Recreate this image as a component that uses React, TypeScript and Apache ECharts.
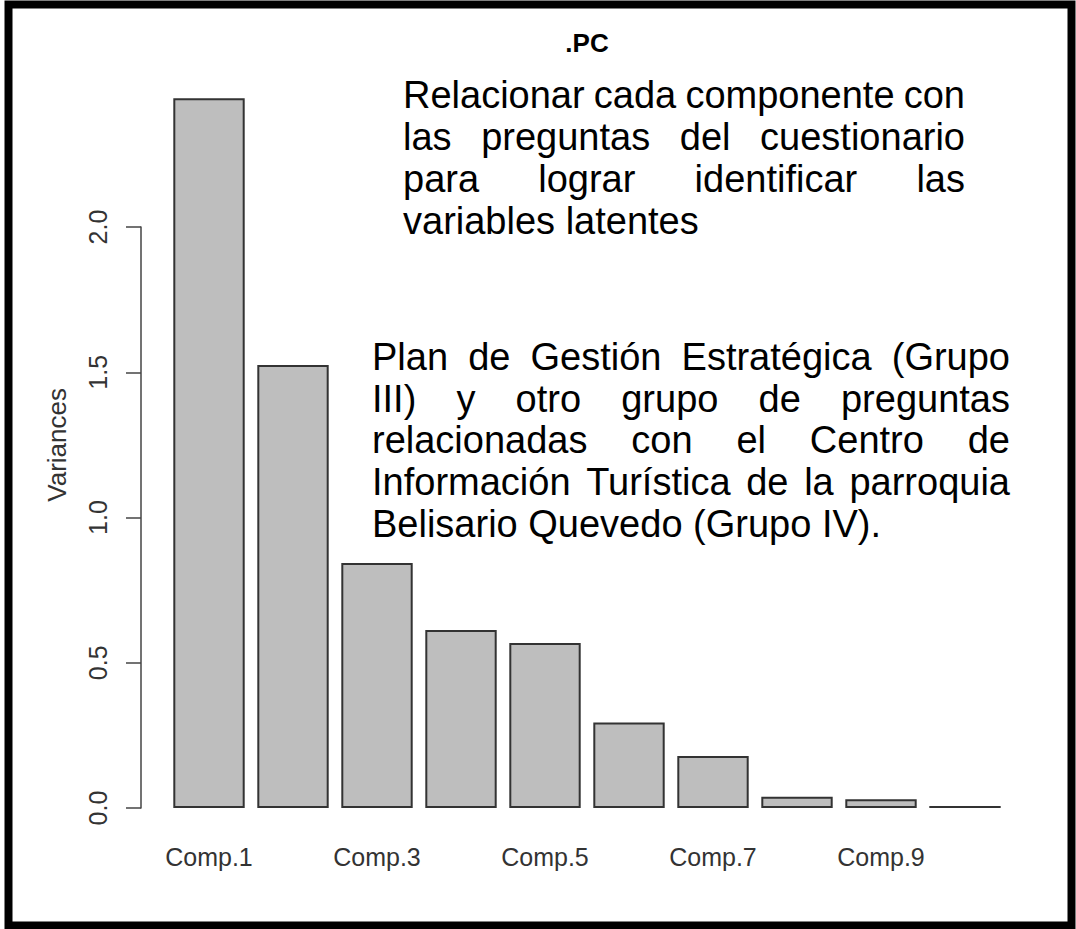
import React, { useEffect, useRef } from "react";
import * as echarts from "echarts";

const categories = ["Comp.1", "Comp.2", "Comp.3", "Comp.4", "Comp.5", "Comp.6", "Comp.7", "Comp.8", "Comp.9", "Comp.10"];
const variances = [2.443, 1.525, 0.843, 0.613, 0.568, 0.294, 0.179, 0.039, 0.030, 0.007];
const yAxisMax = 2.0;
const yAxisInterval = 0.5;
const chartTitle = ".PC";
const yAxisTitle = "Variances";
const note1Lines = [
  "Relacionar cada componente con",
  "las preguntas del cuestionario",
  "para lograr identificar las",
  "variables latentes",
];
const note2Lines = [
  "Plan de Gestión Estratégica (Grupo",
  "III) y otro grupo de preguntas",
  "relacionadas con el Centro de",
  "Información Turística de la parroquia",
  "Belisario Quevedo (Grupo IV).",
];

const FONT = '"Liberation Sans", Arial, Helvetica, sans-serif';

function justifiedBlock(lines: string[], left: number, right: number, firstBaseline: number, lineStep: number, size: number) {
  const canvas = document.createElement("canvas");
  const ctx = canvas.getContext("2d")!;
  ctx.font = `${size}px ${FONT}`;
  const els: any[] = [];
  lines.forEach((line, i) => {
    const y = firstBaseline + i * lineStep - 0.35 * size;
    const isLast = i === lines.length - 1;
    const words = line.split(" ");
    if (isLast || words.length === 1) {
      els.push({
        type: "text",
        x: left,
        y,
        style: { text: line, fill: "#000", fontSize: size, fontFamily: FONT, align: "left", verticalAlign: "middle" },
      });
      return;
    }
    const widths = words.map((w) => ctx.measureText(w).width);
    const total = widths.reduce((a, b) => a + b, 0);
    const gap = (right - left - total) / (words.length - 1);
    let x = left;
    words.forEach((w, k) => {
      els.push({
        type: "text",
        x,
        y,
        style: { text: w, fill: "#000", fontSize: size, fontFamily: FONT, align: "left", verticalAlign: "middle" },
      });
      x += widths[k] + gap;
    });
  });
  return els;
}

export default function App() {
  const ref = useRef<HTMLDivElement>(null);
  useEffect(() => {
    if (!ref.current) return;
    const chart = echarts.init(ref.current, null, { renderer: "svg" });
    const noteSize = 38;
    const graphic: any[] = [
      {
        type: "rect",
        shape: { x: 8.5, y: 4.5, width: 1063, height: 921 },
        style: { fill: "none", stroke: "#000", lineWidth: 8 },
        z: 100,
      },
      {
        type: "text",
        x: 587,
        y: 43,
        style: { text: chartTitle, fill: "#000", fontSize: 26, fontWeight: "bold", fontFamily: FONT, align: "center", verticalAlign: "middle" },
      },
      ...justifiedBlock(note1Lines, 403, 965, 108, 42.2, noteSize),
      ...justifiedBlock(note2Lines, 372, 1010, 370, 41.8, noteSize),
    ];
    const option: any = {
      animation: false,
      backgroundColor: "#fff",
      textStyle: { fontFamily: FONT },
      grid: [
        { left: 167, right: 69, top: 808 - 2.5 * 290.5, bottom: 121 },
        { left: 141, width: 10, top: 227, bottom: 121 },
      ],
      xAxis: [
        {
          type: "category",
          gridIndex: 0,
          data: categories,
          axisLine: { show: false },
          axisTick: { show: false },
          axisLabel: { interval: 1, margin: 36, fontSize: 25, color: "#333", fontFamily: FONT },
        },
        { type: "value", gridIndex: 1, show: false },
      ],
      yAxis: [
        {
          type: "value",
          gridIndex: 0,
          min: 0,
          max: 2.5,
          axisLine: { show: false },
          axisTick: { show: false },
          axisLabel: { show: false },
          splitLine: { show: false },
          name: yAxisTitle,
          nameLocation: "middle",
          nameGap: 97,
          nameRotate: 90,
          nameTextStyle: { fontSize: 26, color: "#333", fontFamily: FONT },
        },
        {
          type: "value",
          gridIndex: 1,
          min: 0,
          max: yAxisMax,
          interval: yAxisInterval,
          axisLine: { show: true, lineStyle: { color: "#444", width: 1.5 } },
          axisTick: { show: true, length: 15, lineStyle: { color: "#444", width: 1.5 } },
          axisLabel: { rotate: 90, margin: 31, fontSize: 25, color: "#333", fontFamily: FONT, formatter: (v: number) => v.toFixed(1) },
          splitLine: { show: false },
        },
      ],
      series: [
        {
          type: "bar",
          xAxisIndex: 0,
          yAxisIndex: 0,
          data: variances,
          barCategoryGap: "15%",
          itemStyle: { color: "#bebebe", borderColor: "#333", borderWidth: 2 },
        },
      ],
      graphic,
    };
    chart.setOption(option);
    return () => chart.dispose();
  }, []);
  return <div ref={ref} style={{ position: "absolute", left: 0, top: 0, width: 1076, height: 929 }} />;
}
